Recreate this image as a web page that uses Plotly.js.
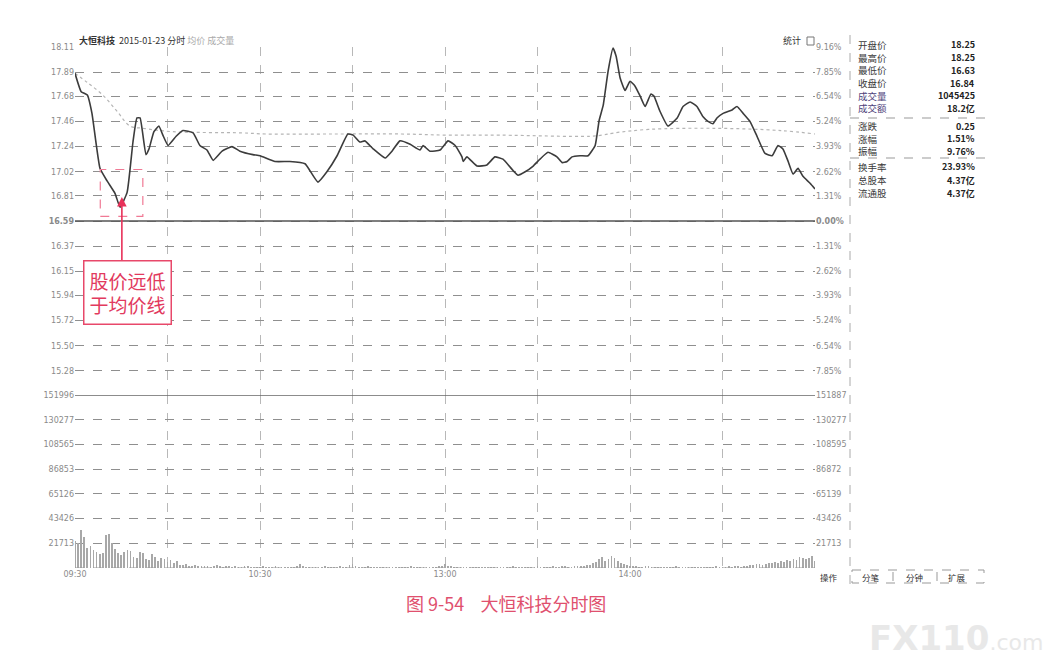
<!DOCTYPE html>
<html>
<head>
<meta charset="utf-8">
<script src="https://cdn.plot.ly/plotly-3.0.1.min.js"></script>
<style>html,body{margin:0;padding:0;background:#fff;}#chart{width:1064px;height:666px;}</style>
</head>
<body>
<div id="chart"></div>
<script>
// ---- data ----
const stockName = "大恒科技";
const tradeDate = "2015-01-23";
const prevClose = 16.59;

const timeTickVals = [0, 30, 60, 90, 120, 150, 180, 210, 240];
const timeTickText = ["09:30", "", "10:30", "", "13:00", "", "14:00", "", ""];

const priceTicks = [18.11, 17.89, 17.68, 17.46, 17.24, 17.02, 16.81, 16.59, 16.37, 16.15, 15.94, 15.72, 15.50, 15.28];
const priceTickText = ["18.11", "17.89", "17.68", "17.46", "17.24", "17.02", "16.81", "<b>16.59</b>", "16.37", "16.15", "15.94", "15.72", "15.50", "15.28"];
const pctTickText = ["9.16%", "7.85%", "6.54%", "5.24%", "3.93%", "2.62%", "1.31%", "<b>0.00%</b>", "1.31%", "2.62%", "3.93%", "5.24%", "6.54%", "7.85%"];
const priceBottom = 15.07;

const volTicks = [151996, 130277, 108565, 86853, 65126, 43426, 21713];
const volLeftText = ["151996", "130277", "108565", "86853", "65126", "43426", "21713"];
const volRightText = ["151887", "130277", "108595", "86872", "65139", "43426", "21713"];

// price line (minute after open, price)
const priceMin = [0, 2, 4, 5.5, 8.1, 10.4, 13, 14.6, 16.9, 18.8, 20.1, 21.1, 23, 24, 25.6, 27.2, 28.5, 30.2, 32.8, 35,
  38.3, 40.5, 42.8, 44.8, 47.7, 50.9, 53.5, 57.7, 60, 64.9, 69.7, 74.6, 76.2, 78.8, 81.7, 85, 88.5, 90.2, 92.4, 94,
  96.7, 100.6, 102.8, 105.4, 108.7, 111.9, 112.9, 115.1, 118.4, 121, 123.3, 125.5, 125.9, 127.1, 130.4, 133.6, 136.2, 138.8, 142.1, 143.7,
  146, 148.6, 150.8, 153.4, 156.3, 158, 159.6, 161.2, 163.8, 166.4, 168.7, 170, 171.3, 172.9, 174.5, 175.5, 176.8, 178.4, 180, 181.6,
  183.3, 184.9, 186.8, 187.8, 189.7, 192.3, 195.3, 197.2, 199.5, 201.7, 203.7, 205.3, 206.9, 208.2, 210.2, 213.1, 214.7, 216.7, 218.9, 221.2,
  223.8, 226.1, 228, 229.6, 231.3, 232.9, 234.5, 236.1, 238.4, 240];
const priceVal = [17.88, 17.72, 17.69, 17.53, 17.05, 16.94, 16.83, 16.71, 16.84, 17.28, 17.49, 17.49, 17.17, 17.22, 17.37, 17.42, 17.34, 17.25, 17.33, 17.38,
  17.36, 17.25, 17.21, 17.12, 17.20, 17.24, 17.20, 17.17, 17.16, 17.11, 17.11, 17.09, 17.03, 16.93, 17.02, 17.16, 17.35, 17.34, 17.28, 17.29,
  17.22, 17.14, 17.20, 17.29, 17.26, 17.21, 17.25, 17.20, 17.21, 17.29, 17.25, 17.15, 17.11, 17.15, 17.07, 17.08, 17.15, 17.13, 17.03, 16.99,
  17.02, 17.07, 17.13, 17.19, 17.15, 17.10, 17.11, 17.15, 17.16, 17.16, 17.25, 17.47, 17.60, 17.90, 18.10, 18.03, 17.84, 17.73, 17.81, 17.77,
  17.68, 17.59, 17.70, 17.68, 17.55, 17.42, 17.49, 17.59, 17.63, 17.59, 17.50, 17.46, 17.44, 17.49, 17.53, 17.56, 17.59, 17.53, 17.46, 17.33,
  17.18, 17.16, 17.25, 17.22, 17.11, 17.00, 17.05, 16.98, 16.92, 16.87];

// average price line
const avgMin = [0, 4, 9, 13.6, 17.8, 22, 31.8, 54, 62, 84, 106, 121, 138, 167, 171, 175, 186, 207, 229, 240];
const avgVal = [17.88, 17.80, 17.69, 17.55, 17.42, 17.40, 17.37, 17.36, 17.35, 17.35, 17.35, 17.34, 17.34, 17.33, 17.34, 17.36, 17.39, 17.40, 17.38, 17.35];

// volume per minute (index = minute after open)
const volume = [
  24000,22000,33000,27000,18000,19000,16000,14000,12000,13000,29000,30000,22000,17000,13000,11000,14000,16000,15000,10000,
  9000,14000,13000,8000,7000,12000,10000,6000,9000,8000,5000,7000,4000,6000,3000,
  2600,3400,2200,1800,2500,1600,2100,1500,1900,1300,1700,2400,1400,1200,1800,1500,1100,1600,1300,1000,1400,1700,1200,900,1300,
  1100,1500,900,1200,1000,1400,800,1100,1300,900,1000,1200,1600,3600,1400,1100,900,1300,1000,800,1200,1500,1100,900,1000,1300,1700,1200,1000,2400,
  3800,1500,1200,1000,900,1400,1100,800,1000,1200,900,1100,1300,1000,800,1200,1000,900,1100,1400,1000,800,1200,1100,900,1000,1300,1100,1500,1800,
  3200,2000,1400,1100,1300,1000,900,1200,1000,1100,800,1000,1200,900,1100,1000,1300,900,800,1100,1000,1200,1400,1000,900,1100,1300,1000,1200,1100,
  1400,1200,1000,1300,1100,1500,1200,1000,1400,1600,1300,1100,1500,1800,1600,2200,2500,3000,4200,5500,
  7500,9800,6000,8200,10500,9000,6500,4800,3500,2600,2000,
  1800,1500,1300,1200,1600,1400,1100,1000,1300,1200,900,1100,1000,1200,1400,1000,900,1100,1300,1000,
  1200,900,1000,1100,1300,1000,1200,1400,1100,1000,1300,1500,1200,1400,1600,1300,1800,2000,2400,2800,
  3200,3600,2900,3400,4000,4500,5200,
  4800,6000,5400,7200,6500,8000,7000,9500,8500,7800,9000,10800,6000];

const panelLabels = ["开盘价", "最高价", "最低价", "收盘价", "成交量", "成交额", "涨跌", "涨幅", "振幅", "换手率", "总股本", "流通股"];
const panelValues = ["18.25", "18.25", "16.63", "16.84", "1045425", "18.2亿", "0.25", "1.51%", "9.76%", "23.93%", "4.37亿", "4.37亿"];
const panelRowsPx = [45, 57.7, 70.3, 83, 95.7, 108.4, 126, 138.5, 151, 167, 180, 193];
const buttonLabels = ["操作", "分笔", "分钟", "扩展"];
const buttonPx = [829, 871, 914, 957];

// ---- layout helpers (pixel -> paper) ----
const L = 75, R = 815, T = 47, B = 568;
const px = x => (x - L) / (R - L);
const py = y => (B - y) / (B - T);

const volMinutes = volume.map((v, i) => i);
const FONT = '"DejaVu Sans", "Noto Sans CJK SC", sans-serif';
const CJK = '"Noto Sans CJK SC", sans-serif';

const traces = [
  {x: avgMin, y: avgVal, type: 'scatter', mode: 'lines', xaxis: 'x', yaxis: 'y',
   line: {color: '#b5b5b5', width: 1.2, dash: 'dot', shape: 'spline'}, hoverinfo: 'skip'},
  {x: priceMin, y: priceVal, type: 'scatter', mode: 'lines', xaxis: 'x', yaxis: 'y',
   line: {color: '#3c3c3c', width: 1.6, shape: 'spline', smoothing: 0.4}},
  {x: volMinutes, y: volume, type: 'bar', xaxis: 'x', yaxis: 'y3',
   marker: {color: '#a8a8a8', line: {width: 0}}, width: 0.55},
  {x: [0], y: [priceBottom], type: 'scatter', mode: 'markers', xaxis: 'x', yaxis: 'y2',
   marker: {opacity: 0}, hoverinfo: 'skip'},
  {x: [0], y: [0], type: 'scatter', mode: 'markers', xaxis: 'x', yaxis: 'y4',
   marker: {opacity: 0}, hoverinfo: 'skip'}
];

const tickFont = {family: FONT, size: 8, color: '#8a8a8a'};
const priceDomain = [py(395), 1];
const volDomain = [0, py(395)];

const annotations = [];
const shapes = [];

// header
annotations.push({xref: 'paper', yref: 'paper', x: px(77), y: py(41), xanchor: 'left', yanchor: 'middle',
  showarrow: false, font: {family: CJK, size: 9, color: '#333'},
  text: '<b>' + stockName + '</b>  ' + tradeDate + ' 分时 <span style="color:#aaa">均价 成交量</span>'});
annotations.push({xref: 'paper', yref: 'paper', x: px(803), y: py(41), xanchor: 'right', yanchor: 'middle',
  showarrow: false, font: {family: CJK, size: 9, color: '#333'}, text: '统计'});
shapes.push({type: 'rect', xref: 'paper', yref: 'paper', x0: px(807), x1: px(814), y0: py(45), y1: py(37),
  line: {color: '#777', width: 1}});

// solid reference lines
shapes.push({type: 'line', xref: 'x', yref: 'y', x0: 0, x1: 240, y0: prevClose, y1: prevClose, line: {color: '#555', width: 1.6}});
shapes.push({type: 'line', xref: 'x', yref: 'y3', x0: 0, x1: 240, y0: volTicks[0], y1: volTicks[0], line: {color: '#666', width: 1.4}});
shapes.push({type: 'line', xref: 'x', yref: 'y3', x0: 0, x1: 240, y0: 0, y1: 0, line: {color: '#999', width: 1, dash: 'dash'}});

// right panel
shapes.push({type: 'line', xref: 'paper', yref: 'paper', x0: px(850), x1: px(850), y0: py(35), y1: py(584),
  line: {color: '#aaa', width: 1, dash: 'dash'}});
[118, 158].forEach(yy => shapes.push({type: 'line', xref: 'paper', yref: 'paper', x0: px(850), x1: px(985), y0: py(yy), y1: py(yy),
  line: {color: '#999', width: 1, dash: 'dash'}}));
panelLabels.forEach((lab, i) => {
  const c = (lab === '成交量' || lab === '成交额') ? '#4d3f7a' : '#3a3a3a';
  annotations.push({xref: 'paper', yref: 'paper', x: px(857), y: py(panelRowsPx[i]), xanchor: 'left', yanchor: 'middle',
    showarrow: false, font: {family: CJK, size: 9.5, color: c}, text: lab, borderpad: 0});
  annotations.push({xref: 'paper', yref: 'paper', x: px(976), y: py(panelRowsPx[i]), xanchor: 'right', yanchor: 'middle',
    showarrow: false, font: {family: CJK, size: 9, color: '#222'}, text: '<b>' + panelValues[i] + '</b>', borderpad: 0});
});

// bottom buttons
shapes.push({type: 'rect', xref: 'paper', yref: 'paper', x0: px(852), x1: px(984), y0: py(570), y1: py(583),
  line: {color: '#999', width: 1, dash: 'dash'}});
[893, 937].forEach(xx => shapes.push({type: 'line', xref: 'paper', yref: 'paper', x0: px(xx), x1: px(xx), y0: py(572), y1: py(581),
  line: {color: '#999', width: 1}}));
buttonLabels.forEach((b, i) => annotations.push({xref: 'paper', yref: 'paper', x: px(buttonPx[i]), y: py(577),
  xanchor: 'center', yanchor: 'middle', showarrow: false, font: {family: CJK, size: 8.5, color: '#333'}, text: b, borderpad: 0}));

// red highlight box around low, arrow and callout
shapes.push({type: 'rect', xref: 'x', yref: 'y', x0: 8.2, x1: 22, y0: 16.63, y1: 17.04,
  line: {color: '#f07a95', width: 1.2, dash: 'dash'}});
annotations.push({xref: 'x', yref: 'y', x: 15.2, y: 16.80, ax: 0, ay: 70, axref: 'pixel', ayref: 'pixel',
  showarrow: true, arrowhead: 2, arrowsize: 1.2, arrowwidth: 1.6, arrowcolor: '#e8325a', text: ''});
annotations.push({xref: 'paper', yref: 'paper', x: px(127), y: py(292), xanchor: 'center', yanchor: 'middle',
  showarrow: false, font: {family: CJK, size: 19, color: '#e23a5e'}, text: '股价远低<br>于均价线',
  bordercolor: '#e8486a', borderwidth: 1.5, borderpad: 5, bgcolor: '#ffffff'});

// caption
annotations.push({xref: 'paper', yref: 'paper', x: px(506), y: py(603), xanchor: 'center', yanchor: 'middle',
  showarrow: false, font: {family: CJK, size: 18, color: '#e0506e'}, text: '图 9-54\u00a0\u00a0\u00a0\u00a0大恒科技分时图'});

// watermark
annotations.push({xref: 'paper', yref: 'paper', x: px(1045), y: py(638), xanchor: 'right', yanchor: 'middle',
  showarrow: false, font: {family: '"DejaVu Sans", sans-serif', size: 34, color: '#e8e8e8'},
  text: '<b>FX110</b><span style="font-size:22px">.com</span>'});

const layout = {
  width: 1064, height: 666,
  margin: {l: L, r: 1064 - R, t: T, b: 666 - B, pad: 0},
  paper_bgcolor: '#ffffff', plot_bgcolor: '#ffffff',
  showlegend: false, hovermode: false, bargap: 0,
  xaxis: {domain: [0, 1], range: [0, 240], anchor: 'y3', tickvals: timeTickVals, ticktext: timeTickText,
    showgrid: true, gridcolor: '#b8b8b8', griddash: 'dash', gridwidth: 1, zeroline: false, showline: false,
    ticks: '', tickfont: tickFont, ticklabelstandoff: 0},
  yaxis: {domain: priceDomain, range: [priceBottom, 18.11], tickvals: priceTicks, ticktext: priceTickText,
    showgrid: true, gridcolor: '#8f8f8f', griddash: 'dash', gridwidth: 1, zeroline: false, showline: false,
    ticks: '', tickfont: tickFont, side: 'left', anchor: 'x'},
  yaxis2: {overlaying: 'y', side: 'right', range: [priceBottom, 18.11], tickvals: priceTicks, ticktext: pctTickText,
    showgrid: false, zeroline: false, showline: false, ticks: '', tickfont: tickFont, anchor: 'x'},
  yaxis3: {domain: volDomain, range: [0, volTicks[0]], tickvals: volTicks, ticktext: volLeftText,
    showgrid: true, gridcolor: '#8f8f8f', griddash: 'dash', gridwidth: 1, zeroline: false, showline: false,
    ticks: '', tickfont: tickFont, side: 'left', anchor: 'x'},
  yaxis4: {overlaying: 'y3', side: 'right', range: [0, volTicks[0]], tickvals: volTicks, ticktext: volRightText,
    showgrid: false, zeroline: false, showline: false, ticks: '', tickfont: tickFont, anchor: 'x'},
  shapes: shapes,
  annotations: annotations
};

Plotly.newPlot('chart', traces, layout, {staticPlot: true, displayModeBar: false});
</script>
</body>
</html>
